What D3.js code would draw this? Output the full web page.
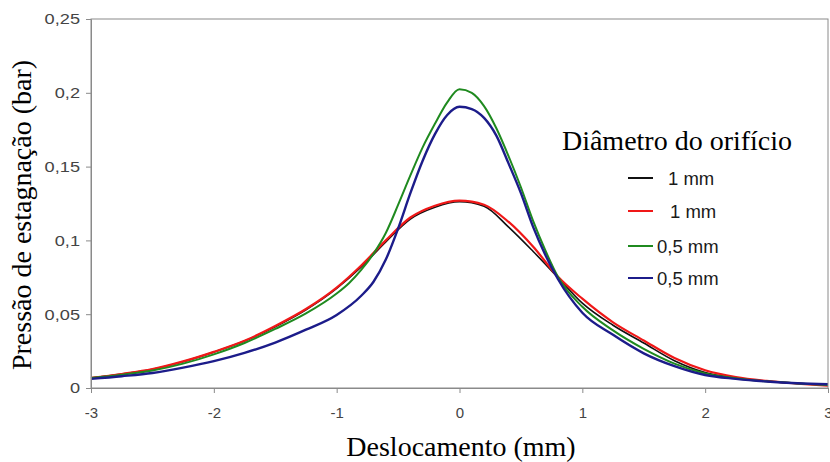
<!DOCTYPE html>
<html>
<head>
<meta charset="utf-8">
<script src="https://cdn.jsdelivr.net/npm/d3@7"></script>
<style>
  html, body { margin: 0; padding: 0; background: #fff; }
  svg { display: block; }
</style>
</head>
<body>
<svg id="chart" width="830" height="462"></svg>
<script>
// ---- data ----
const xTicks = [-3, -2, -1, 0, 1, 2, 3];
const yTicks = [0, 0.05, 0.1, 0.15, 0.2, 0.25];
const yTickLabels = ["0", "0,05", "0,1", "0,15", "0,2", "0,25"];

const xBlack = [-3, -2.75, -2.5, -2.25, -2, -1.75, -1.5, -1.25, -1, -0.8, -0.6, -0.4, -0.2, 0, 0.2, 0.4, 0.6, 0.8, 1, 1.25, 1.5, 1.75, 2, 2.25, 2.5, 2.75, 3];
const yBlack = [0.0068, 0.0094, 0.0127, 0.0178, 0.0243, 0.0318, 0.0415, 0.053, 0.0675, 0.082, 0.099, 0.1145, 0.1225, 0.1262, 0.1232, 0.109, 0.0925, 0.075, 0.0575, 0.0425, 0.0305, 0.0185, 0.0105, 0.0068, 0.0046, 0.0032, 0.002];

const xRed = [-3, -2.75, -2.5, -2.25, -2, -1.75, -1.5, -1.25, -1, -0.8, -0.6, -0.4, -0.2, 0, 0.2, 0.4, 0.6, 0.8, 1, 1.25, 1.5, 1.75, 2, 2.25, 2.5, 2.75, 3];
const yRed = [0.0068, 0.0095, 0.0128, 0.018, 0.0245, 0.032, 0.042, 0.0535, 0.068, 0.083, 0.1, 0.1155, 0.1235, 0.127, 0.1242, 0.1125, 0.0957, 0.0755, 0.0605, 0.0445, 0.0322, 0.0203, 0.012, 0.0074, 0.0048, 0.003, 0.0015];

const xGreen = [-3, -2.75, -2.5, -2.25, -2, -1.75, -1.5, -1.25, -1, -0.9, -0.8, -0.7, -0.6, -0.5, -0.4, -0.3, -0.2, -0.1, 0, 0.1, 0.2, 0.3, 0.4, 0.5, 0.6, 0.7, 0.8, 1, 1.25, 1.5, 1.75, 2, 2.25, 2.5, 2.75, 3];
const yGreen = [0.0068, 0.009, 0.0118, 0.0165, 0.0228, 0.0305, 0.040, 0.0505, 0.064, 0.071, 0.080, 0.091, 0.105, 0.124, 0.144, 0.163, 0.179, 0.1935, 0.2024, 0.2, 0.191, 0.176, 0.157, 0.136, 0.113, 0.093, 0.0755, 0.055, 0.039, 0.0265, 0.0165, 0.0098, 0.0066, 0.0045, 0.0031, 0.002];

const xBlue = [-3, -2.75, -2.5, -2.25, -2, -1.75, -1.5, -1.25, -1, -0.8, -0.7, -0.6, -0.5, -0.4, -0.3, -0.2, -0.1, 0, 0.1, 0.2, 0.3, 0.4, 0.5, 0.6, 0.7, 0.8, 1, 1.25, 1.5, 1.75, 2, 2.25, 2.5, 2.75, 3];
const yBlue = [0.0062, 0.008, 0.0102, 0.0138, 0.0182, 0.0238, 0.0308, 0.0395, 0.0495, 0.0625, 0.072, 0.087, 0.108, 0.132, 0.154, 0.172, 0.185, 0.1905, 0.189, 0.183, 0.171, 0.152, 0.132, 0.109, 0.09, 0.074, 0.051, 0.036, 0.0235, 0.0148, 0.0088, 0.0062, 0.0044, 0.0032, 0.0025];

const legendLabels = ["1 mm", "1 mm", "0,5 mm", "0,5 mm"];
const seriesColors = ["#111111", "#f01818", "#1f8a1f", "#1c1c8a"];

const series = [
  { xs: xBlack, ys: yBlack, color: seriesColors[0], w: 1.6 },
  { xs: xRed, ys: yRed, color: seriesColors[1], w: 2.2 },
  { xs: xGreen, ys: yGreen, color: seriesColors[2], w: 2.0 },
  { xs: xBlue, ys: yBlue, color: seriesColors[3], w: 2.4 }
];

// ---- layout ----
const svg = d3.select("#chart");
const mLeft = 91, mRight = 828, mTop = 19, mBottom = 388;
const x = d3.scaleLinear().domain([-3, 3]).range([mLeft, mRight]);
const y = d3.scaleLinear().domain([0, 0.25]).range([mBottom, mTop]);
const axisColor = "#8a8a8a";
const tickFont = "Liberation Sans, Arial, sans-serif";
const serif = "Liberation Serif, 'Times New Roman', serif";

// curves
const line = d3.line().x(d => x(d[0])).y(d => y(d[1])).curve(d3.curveMonotoneX);
series.forEach(s => {
  svg.append("path")
    .attr("d", line(s.xs.map((v, i) => [v, s.ys[i]])))
    .attr("fill", "none")
    .attr("stroke", s.color)
    .attr("stroke-width", s.w)
    .attr("stroke-linejoin", "round");
});

// frame
svg.append("rect")
  .attr("x", mLeft).attr("y", mTop)
  .attr("width", mRight - mLeft).attr("height", mBottom - mTop)
  .attr("fill", "none").attr("stroke", axisColor).attr("stroke-width", 1);

// axes
const xAxis = d3.axisBottom(x).tickValues(xTicks).tickSize(5).tickPadding(14).tickFormat(d => String(d));
const gx = svg.append("g").attr("transform", `translate(0,${mBottom})`).call(xAxis);
gx.select(".domain").attr("stroke", axisColor);
gx.selectAll(".tick line").attr("stroke", axisColor);
gx.selectAll(".tick text").attr("fill", "#444").attr("font-family", tickFont).attr("font-size", 15);

const yAxis = d3.axisLeft(y).tickValues(yTicks).tickSize(5).tickPadding(0)
  .tickFormat((d, i) => yTickLabels[i]);
const gy = svg.append("g").attr("transform", `translate(${mLeft},0)`).call(yAxis);
gy.select(".domain").attr("stroke", axisColor);
gy.selectAll(".tick line").attr("stroke", axisColor);
gy.selectAll(".tick text")
  .attr("fill", "#444").attr("font-family", tickFont).attr("font-size", 14)
  .attr("x", 0).attr("dy", "0.35em")
  .attr("transform", "translate(-11,0) scale(1.3,1)");

// axis titles
svg.append("text")
  .attr("x", 461).attr("y", 456)
  .attr("text-anchor", "middle")
  .attr("font-family", serif).attr("font-size", 28).attr("fill", "#000")
  .text("Deslocamento (mm)");

svg.append("text")
  .attr("transform", "translate(31,215) rotate(-90)")
  .attr("text-anchor", "middle")
  .attr("font-family", serif).attr("font-size", 28).attr("fill", "#000")
  .text("Pressão de estagnação (bar)");

// legend
svg.append("text")
  .attr("x", 677).attr("y", 150)
  .attr("text-anchor", "middle")
  .attr("font-family", serif).attr("font-size", 28).attr("fill", "#000")
  .text("Diâmetro do orifício");

const legendRows = [178, 211, 246, 278];
const legendTextX = [668, 670, 657, 657];
legendLabels.forEach((lab, i) => {
  svg.append("line")
    .attr("x1", 628).attr("x2", 653)
    .attr("y1", legendRows[i]).attr("y2", legendRows[i])
    .attr("stroke", seriesColors[i]).attr("stroke-width", 2);
  svg.append("text")
    .attr("x", legendTextX[i]).attr("y", legendRows[i] + 7)
    .attr("font-family", tickFont).attr("font-size", 18.5).attr("fill", "#1a1a1a")
    .text(lab);
});
</script>
</body>
</html>
